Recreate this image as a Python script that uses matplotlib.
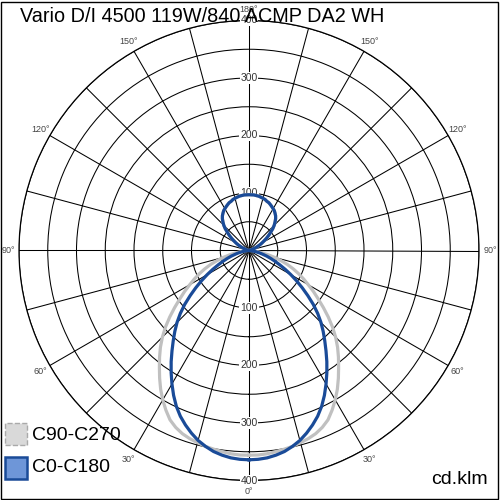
import numpy as np
import matplotlib.pyplot as plt
from matplotlib.patches import Rectangle

plt.rcParams['font.family'] = ['Liberation Sans', 'DejaVu Sans']

title = 'Vario D/I 4500 119W/840 ACMP DA2 WH'
unit = 'cd.klm'

# gamma angle (deg) from nadir, 0..180 in 2.5 deg steps, mirrored on both half-planes
gamma = np.arange(0, 180.1, 2.5)
# C0-C180 intensities (cd/klm)
c0_c180 = [364, 363.5, 362, 359, 355, 349, 342, 333, 323, 312, 299, 284, 268, 252, 236, 220,
           205, 191, 177, 162, 146, 129, 113, 98, 84, 71, 59, 49, 40, 32, 24, 18, 12, 7, 4, 1,
           0, 0, 0, 0.5, 1, 2, 3, 5, 8, 12, 16, 21, 26, 31, 37, 43, 49, 56, 62, 67, 72, 76, 79,
           82, 84, 86, 88, 90, 91, 93, 94, 95, 96, 96.5, 97, 97, 97]
# C90-C270 intensities (cd/klm)
c90_c270 = [356, 356, 355, 353, 351, 349, 346, 343, 339, 333, 325, 313, 300, 286, 271, 256,
            242, 228, 213, 197, 180, 163, 147, 133, 119, 107, 95, 83, 71, 58, 46, 34, 23, 14, 7, 2,
            0, 0, 0, 0.5, 1, 2, 3, 5, 8, 12, 16, 21, 26, 31, 37, 43, 49, 56, 62, 67, 72, 76, 79,
            82, 84, 86, 88, 90, 91, 93, 94, 95, 96, 96.5, 97, 97, 97]

series = [('C90-C270', c90_c270, '#c0c0c0'), ('C0-C180', c0_c180, '#1a4b98')]

ring_ticks = np.arange(50, 401, 50)
ring_labels = [100, 200, 300, 400]
spoke_deg = np.arange(0, 360, 15)
spoke_lab = []
for d in spoke_deg:
    if d % 30:
        spoke_lab.append('')
    else:
        v = d if d <= 180 else 360 - d
        spoke_lab.append(f'{v}°')

fig = plt.figure(figsize=(5, 5), dpi=100)
ax = fig.add_axes([0.038, 0.039, 0.92, 0.92], projection='polar')
ax.set_theta_zero_location('S')
ax.set_ylim(0, 400)
ax.set_yticks(ring_ticks)
ax.set_yticklabels([])
ax.set_thetagrids(spoke_deg, spoke_lab, fontsize=6.5, color='#444444')
ax.tick_params(axis='x', pad=-2.5)
ax.grid(True, color='black', linewidth=0.75)
ax.spines['polar'].set_linewidth(0.9)
ax.set_axisbelow(True)

for val in ring_labels:
    for th in (0, np.pi):
        ax.text(th, val, str(val), ha='center', va='center', fontsize=7.5, color='#333333',
                zorder=3, bbox=dict(facecolor='white', edgecolor='none', pad=0.6))

g = np.deg2rad(gamma)
for name, vals, col in series:
    v = np.array(vals, dtype=float)
    theta = np.concatenate([g, 2 * np.pi - g[::-1]])
    r = np.concatenate([v, v[::-1]])
    ax.plot(theta, r, color=col, linewidth=2.3, zorder=4, solid_joinstyle='round')

fig.text(0.04, 1 - 17 / 500, title, fontsize=14.3, va='center', ha='left', zorder=10)
fig.text(0.975, 1 - 479 / 500, unit, fontsize=14, va='center', ha='right')

# legend swatches
fig.patches.append(Rectangle((5 / 500, 1 - 445 / 500), 22 / 500, 22 / 500, transform=fig.transFigure,
                             facecolor='#d9d9d9', edgecolor='#aaaaaa', linestyle='--', linewidth=1))
fig.patches.append(Rectangle((5 / 500, 1 - 479 / 500), 22 / 500, 22 / 500, transform=fig.transFigure,
                             facecolor='#6e96d8', edgecolor='#1a4b98', linewidth=1.8))
fig.text(32 / 500, 1 - 435 / 500, 'C90-C270', fontsize=14, va='center', ha='left')
fig.text(32 / 500, 1 - 467 / 500, 'C0-C180', fontsize=14, va='center', ha='left')

fig.patches.append(Rectangle((0.002, 0.002), 0.994, 0.994, transform=fig.transFigure,
                             facecolor='none', edgecolor='black', linewidth=1))

fig.savefig('out.png', dpi=100)
